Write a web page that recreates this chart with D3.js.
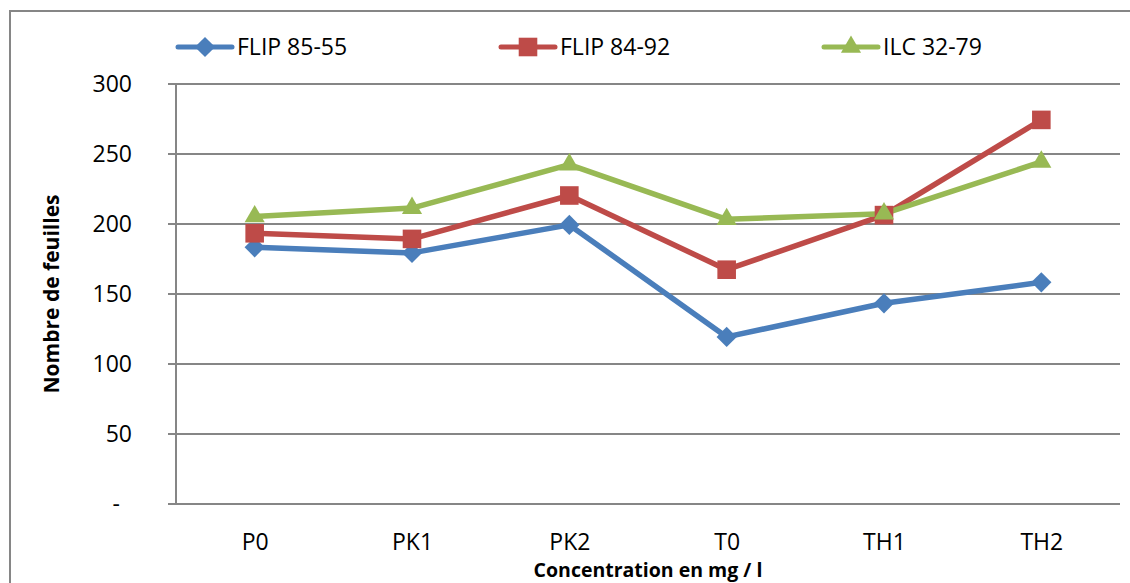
<!DOCTYPE html>
<html>
<head>
<meta charset="utf-8">
<script src="https://cdn.jsdelivr.net/npm/d3@7/dist/d3.min.js"></script>
<style>
  html, body { margin: 0; padding: 0; background: #fff; }
  svg { display: block; }
  text { font-family: "Open Sans", "Liberation Sans", sans-serif; fill: #000; }
</style>
</head>
<body>
<svg id="chart" width="1130" height="583"></svg>
<script>
// Leaf counts per treatment for three varieties
const categories = ["P0", "PK1", "PK2", "T0", "TH1", "TH2"];
const flip8555 = [183, 179, 199, 119, 143, 158];
const flip8492 = [193, 189, 220, 167, 206, 274];
const ilc3279 = [205, 211, 242, 203, 207, 244];
const yTicks = [0, 50, 100, 150, 200, 250, 300];
const seriesNames = ["FLIP 85-55", "FLIP 84-92", "ILC 32-79"];

const series = [
  { name: seriesNames[0], values: flip8555, color: "#4A7EBB", symbol: d3.symbolDiamond2, size: 260 },
  { name: seriesNames[1], values: flip8492, color: "#BE4B48", symbol: d3.symbolSquare2, size: 440 },
  { name: seriesNames[2], values: ilc3279, color: "#98B954", symbol: d3.symbolTriangle2, size: 290 }
];

const svg = d3.select("#chart");
const plot = { left: 176, right: 1120, top: 83.5, bottom: 503.5 };
const gridColor = "#868686";

// outer chart frame
svg.append("rect")
  .attr("x", 10).attr("y", 11)
  .attr("width", 1130).attr("height", 600)
  .attr("fill", "none").attr("stroke", gridColor).attr("stroke-width", 2);

const x = d3.scalePoint().domain(categories).range([plot.left, plot.right]).padding(0.5);
const y = d3.scaleLinear().domain([0, 300]).range([plot.bottom, plot.top]);

// horizontal gridlines with short outer ticks
const yAxis = d3.axisLeft(y)
  .tickValues(yTicks)
  .tickSize(-(plot.right - plot.left))
  .tickSizeOuter(0)
  .tickPadding(0)
  .tickFormat(d => d === 0 ? "-" : d);

const gy = svg.append("g").attr("transform", `translate(${plot.left},0)`).call(yAxis);
gy.select(".domain").remove();
gy.selectAll(".tick line")
  .attr("x1", -8)
  .attr("stroke", gridColor).attr("stroke-width", 2);
gy.selectAll(".tick text")
  .attr("x", d => d === 0 ? -56 : -44)
  .attr("dy", "0.35em")
  .style("font-size", "23px")
  .style("font-family", '"Open Sans", sans-serif')
  .attr("fill", "#000");

// vertical axis line
svg.append("line")
  .attr("x1", plot.left).attr("x2", plot.left)
  .attr("y1", plot.top).attr("y2", plot.bottom)
  .attr("stroke", gridColor).attr("stroke-width", 2);

// category axis
const xAxis = d3.axisBottom(x).tickSize(0).tickPadding(0);
const gx = svg.append("g").attr("transform", `translate(0,${plot.bottom})`).call(xAxis);
gx.select(".domain").remove();
gx.selectAll(".tick text")
  .attr("y", 46)
  .attr("dy", 0)
  .style("font-size", "23px")
  .style("font-family", '"Open Sans", sans-serif')
  .attr("fill", "#000");

// series lines and markers
const line = d3.line().x((d, i) => x(categories[i])).y(d => y(d));
series.forEach(s => {
  svg.append("path")
    .datum(s.values)
    .attr("d", line)
    .attr("fill", "none")
    .attr("stroke", s.color)
    .attr("stroke-width", 5.5)
    .attr("stroke-linejoin", "round")
    .attr("stroke-linecap", "round");
});
series.forEach(s => {
  svg.append("g").selectAll("path")
    .data(s.values)
    .join("path")
    .attr("transform", (d, i) => `translate(${x(categories[i])},${y(d)})`)
    .attr("d", d3.symbol().type(s.symbol).size(s.size))
    .attr("fill", s.color);
});

// legend
const legendX = [178, 501, 824];
series.forEach((s, i) => {
  const g = svg.append("g").attr("transform", `translate(${legendX[i]},47)`);
  g.append("line").attr("x1", 0).attr("x2", 54).attr("y1", 0).attr("y2", 0)
    .attr("stroke", s.color).attr("stroke-width", 5).attr("stroke-linecap", "round");
  g.append("path").attr("transform", "translate(27,0)")
    .attr("d", d3.symbol().type(s.symbol).size(s.size))
    .attr("fill", s.color);
  g.append("text").attr("x", 59).attr("y", 8)
    .style("font-size", "23px")
    .text(s.name);
});

// axis titles
svg.append("text")
  .attr("x", (plot.left + plot.right) / 2).attr("y", 576.5)
  .attr("text-anchor", "middle")
  .style("font-size", "19.5px").style("font-weight", "bold")
  .text("Concentration en mg / l");

svg.append("text")
  .attr("transform", "translate(59,294) rotate(-90)")
  .attr("text-anchor", "middle")
  .style("font-size", "21px").style("font-weight", "bold")
  .text("Nombre de feuilles");
</script>
</body>
</html>
